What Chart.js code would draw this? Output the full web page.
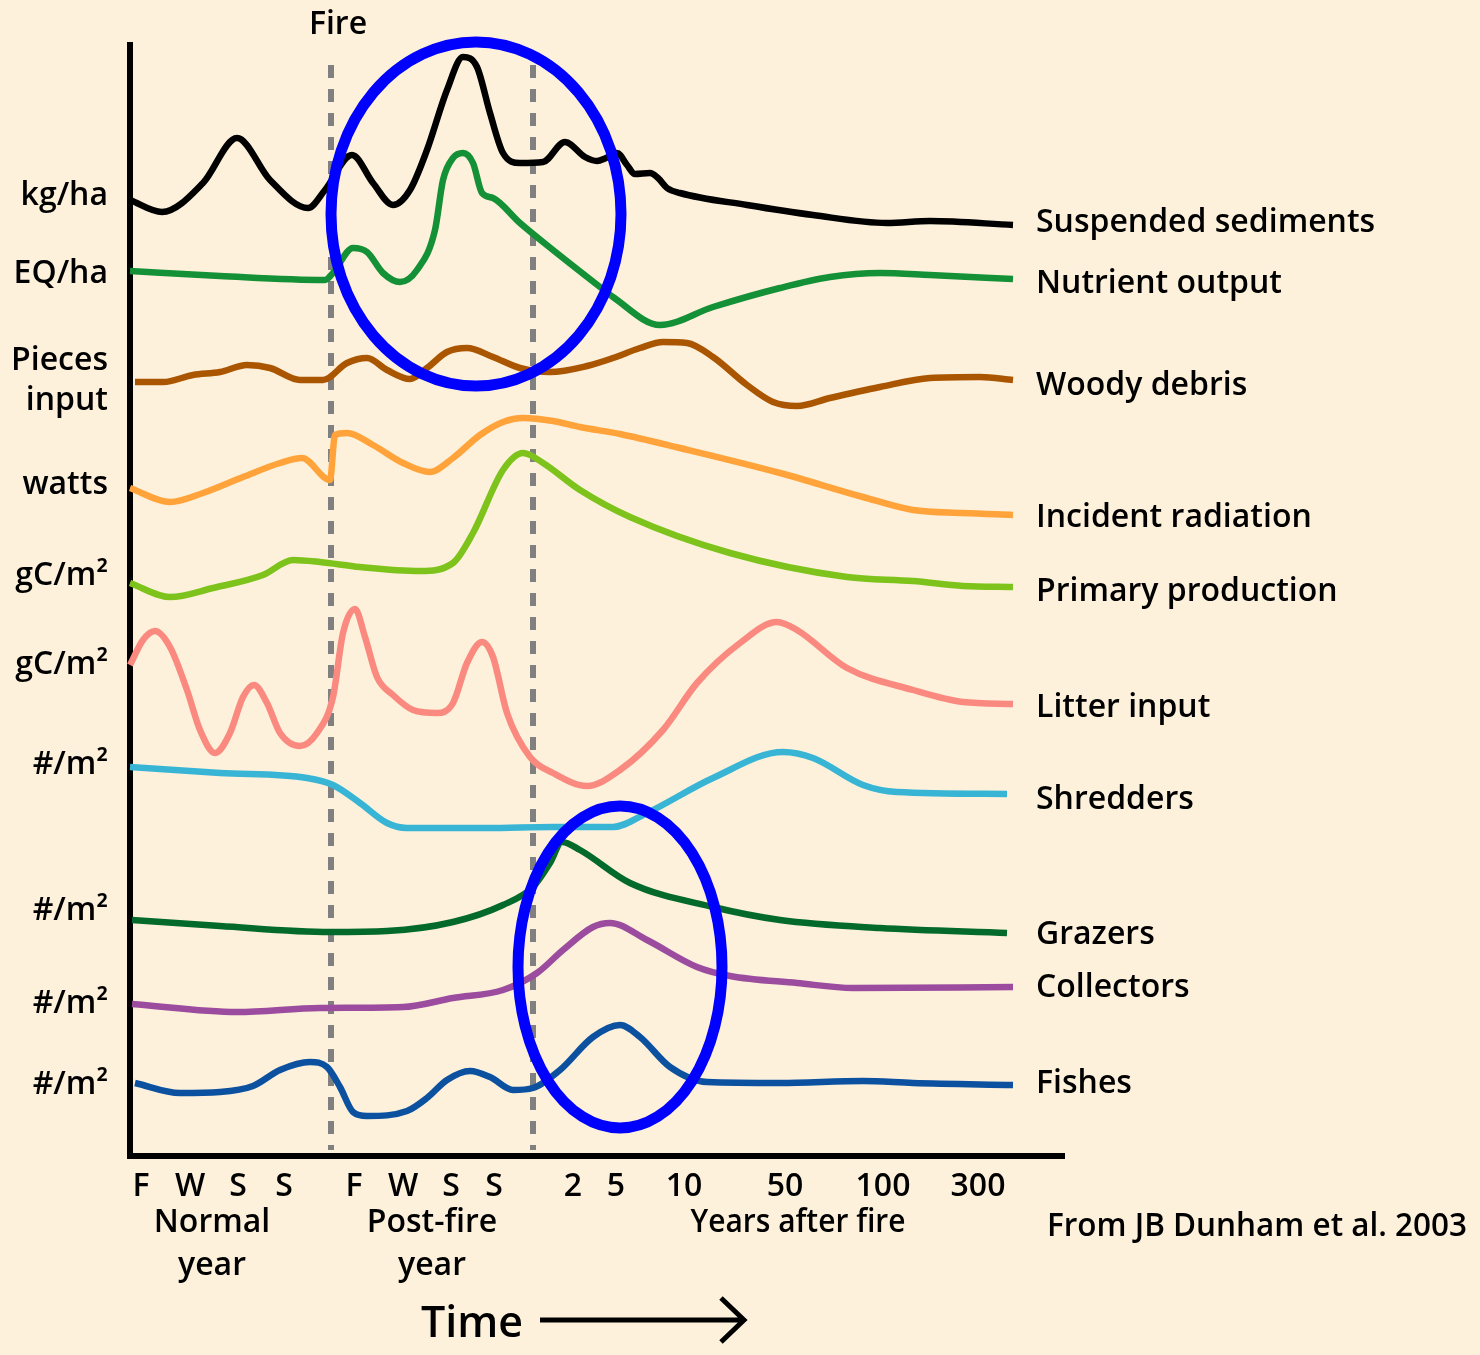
<!DOCTYPE html>
<html>
<head>
<meta charset="utf-8">
<script src="https://cdn.jsdelivr.net/npm/chart.js"></script>
<style>
  html, body { margin: 0; padding: 0; background: #FDF1DC; }
  #wrap { width: 1480px; height: 1355px; position: relative; }
</style>
</head>
<body>
<div id="wrap"><canvas id="fireChart"></canvas></div>
<script>
// x = relative time position, y = relative level
const sediments = [[130,200],[162,212],[203,183],[237,138],[270,180],[308,208],[325,190],[352,155],[373,183],[393,205],[410,190],[427,150],[447,90],[463,57],[477,67],[490,113],[503,153],[520,163],[543,162],[565,142],[585,157],[597,161],[606,158],[617,153],[627,165],[635,174],[650,173],[658,178],[667,188],[680,193],[747,205],[813,215],[887,223],[930,221],[1013,225]]
const nutrient  = [[130,271],[220,276],[325,280],[333,273],[353,248],[367,252],[383,273],[400,282],[417,270],[435,230],[443,180],[453,158],[463,153],[473,163],[482,193],[493,198],[520,223],[553,250],[600,287],[613,297],[660,325],[713,307],[780,288],[830,277],[880,273],[930,275],[1013,279]]
const woody     = [[135,382],[163,382],[193,375],[220,372],[247,365],[270,368],[300,380],[323,380],[347,363],[367,358],[387,370],[410,379],[427,368],[447,352],[467,348],[493,357],[520,368],[550,372],[587,366],[613,358],[640,348],[663,342],[687,343],[713,357],[747,385],[773,402],[797,406],[830,398],[880,387],[930,378],[980,377],[1013,380]]
const radiation = [[130,488],[170,502],[203,493],[243,477],[280,463],[302,458],[330,480],[335,435],[347,433],[373,445],[403,463],[430,472],[453,458],[480,435],[503,422],[523,418],[553,421],[580,427],[620,434],[680,448],[780,473],[863,497],[913,510],[963,513],[1013,515]]
const production= [[130,583],[170,597],[213,588],[263,575],[293,560],[320,562],[360,567],[420,571],[453,563],[473,533],[503,470],[523,453],[543,463],[580,490],[630,517],[730,553],[847,577],[913,581],[963,586],[1013,587]]
const litter    = [[130,665],[143,640],[155,631],[170,647],[187,690],[200,730],[215,753],[230,733],[243,697],[254,685],[267,703],[280,733],[300,746],[317,733],[333,697],[343,633],[355,609],[365,637],[377,677],[393,695],[413,710],[437,713],[453,703],[467,663],[482,642],[493,657],[507,713],[530,757],[553,773],[587,786],[620,770],[663,730],[697,683],[740,643],[777,622],[797,630],[847,668],[913,690],[963,702],[1013,704]]
const shredders = [[130,767],[220,773],[307,778],[333,785],[360,803],[387,823],[407,828],[487,828],[553,827],[613,827],[647,813],[713,778],[783,752],[813,758],[863,785],[897,792],[1007,794]]
const grazers   = [[132,920],[220,926],[330,932],[387,931],[453,922],[503,905],[533,887],[550,863],[562,842],[580,850],[630,883],[713,907],[780,920],[880,928],[1007,933]]
const collectors= [[132,1004],[237,1012],[320,1008],[403,1007],[453,998],[503,990],[537,973],[563,950],[593,927],[610,923],[647,940],[697,967],[730,976],[797,983],[853,988],[1013,987]]
const fishes    = [[135,1083],[180,1093],[220,1092],[253,1086],[280,1070],[310,1062],[327,1067],[340,1087],[353,1112],[367,1116],[407,1111],[427,1098],[447,1080],[470,1071],[490,1077],[513,1090],[533,1088],[560,1070],[593,1037],[620,1025],[640,1037],[670,1067],[707,1082],[780,1083],[863,1081],[913,1083],[1013,1085]]

const seriesNames = ['Suspended sediments','Nutrient output','Woody debris','Incident radiation','Primary production','Litter input','Shredders','Grazers','Collectors','Fishes']
const seriesData  = [sediments, nutrient, woody, radiation, production, litter, shredders, grazers, collectors, fishes]
const seriesColors = ['#000000','#149036','#AA5500','#FFA33A','#7DC31C','#FA8A80','#38B5D5','#046A2C','#9C4C9E','#0B51A0']
const nameLevels  = [220,281,383,515,589,705,797,932,985,1081]

const unitLabels = ['kg/ha','EQ/ha','Pieces','input','watts','gC/m²','gC/m²','#/m²','#/m²','#/m²','#/m²']
const unitLevels = [193,271,358,398,482,573,662,762,908,1001,1082]

const tickPos    = [141,190,238,284,354,403,451,494,573,616,684,785,883,978]
const tickLabels = ['F','W','S','S','F','W','S','S','2','5','10','50','100','300']

const fireLines = [331, 533]
// highlight ellipses: [centre x, centre y, radius x, radius y]
const circles = [[476,214,145,172],[620,967,102,161]]

const FONT = '"Open Sans", "Noto Sans", sans-serif'
const TEXT_NUDGE = 3

const decor = {
  id: 'decor',
  beforeDraw(chart) {
    const ctx = chart.ctx
    ctx.save()
    ctx.fillStyle = '#FDF1DC'
    ctx.fillRect(0, 0, chart.width, chart.height)
    ctx.restore()
  },
  beforeDatasetsDraw(chart) {
    const ctx = chart.ctx
    const xs = chart.scales.x, ys = chart.scales.y
    ctx.save()
    // dashed fire lines
    ctx.strokeStyle = '#808080'
    ctx.lineWidth = 6
    ctx.setLineDash([13, 11])
    fireLines.forEach(v => {
      const px = xs.getPixelForValue(v)
      ctx.beginPath()
      ctx.moveTo(px, ys.getPixelForValue(65))
      ctx.lineTo(px, ys.getPixelForValue(1150))
      ctx.stroke()
    })
    ctx.setLineDash([])
    // axes
    ctx.strokeStyle = '#000'
    ctx.lineWidth = 6
    ctx.beginPath()
    ctx.moveTo(xs.getPixelForValue(130), ys.getPixelForValue(42))
    ctx.lineTo(xs.getPixelForValue(130), ys.getPixelForValue(1156))
    ctx.lineTo(xs.getPixelForValue(1065), ys.getPixelForValue(1156))
    ctx.stroke()
    ctx.restore()
  },
  afterDatasetsDraw(chart) {
    const ctx = chart.ctx
    const xs = chart.scales.x, ys = chart.scales.y
    ctx.save()
    // ellipses
    ctx.strokeStyle = '#0000FF'
    ctx.lineWidth = 11
    circles.forEach(c => {
      const cx = xs.getPixelForValue(c[0]), cy = ys.getPixelForValue(c[1])
      const rx = Math.abs(xs.getPixelForValue(c[0] + c[2]) - cx)
      const ry = Math.abs(ys.getPixelForValue(c[1] + c[3]) - cy)
      ctx.beginPath()
      ctx.ellipse(cx, cy, rx, ry, 0, 0, Math.PI * 2)
      ctx.stroke()
    })

    ctx.fillStyle = '#000'
    ctx.textBaseline = 'middle'
    ctx.font = '600 32px ' + FONT

    // unit labels on the left
    ctx.textAlign = 'right'
    unitLabels.forEach((t, i) => ctx.fillText(t, 108, ys.getPixelForValue(unitLevels[i]) + TEXT_NUDGE))

    // series names on the right
    ctx.textAlign = 'left'
    seriesNames.forEach((t, i) => ctx.fillText(t, 1036, ys.getPixelForValue(nameLevels[i]) + TEXT_NUDGE, 340))

    // time ticks
    ctx.textAlign = 'center'
    tickPos.forEach((v, i) => ctx.fillText(tickLabels[i], xs.getPixelForValue(v), 1184 + TEXT_NUDGE))

    const y1 = 1220 + TEXT_NUDGE, y2 = 1263 + TEXT_NUDGE
    ctx.fillText('Normal', 212, y1)
    ctx.fillText('year', 212, y2)
    ctx.fillText('Post-fire', 432, y1)
    ctx.fillText('year', 432, y2)
    ctx.fillText('Years after fire', 798, y1, 215)
    ctx.fillText('Fire', xs.getPixelForValue(fireLines[0]) + 7, 22 + TEXT_NUDGE)
    ctx.fillText('From JB Dunham et al. 2003', 1257, 1224 + TEXT_NUDGE, 420)

    ctx.font = '600 43px ' + FONT
    ctx.fillText('Time', 472, 1322 + TEXT_NUDGE)

    // arrow
    ctx.strokeStyle = '#000'
    ctx.lineWidth = 5
    ctx.beginPath()
    ctx.moveTo(540, 1320)
    ctx.lineTo(744, 1320)
    ctx.moveTo(721, 1298)
    ctx.lineTo(744, 1320)
    ctx.lineTo(721, 1342)
    ctx.stroke()
    ctx.restore()
  }
}

new Chart(document.getElementById('fireChart'), {
  type: 'line',
  data: {
    datasets: seriesData.map((d, i) => ({
      label: seriesNames[i],
      data: d.map(p => ({ x: p[0], y: p[1] })),
      borderColor: seriesColors[i],
      borderWidth: 6.5,
      pointRadius: 0,
      cubicInterpolationMode: 'monotone',
      fill: false,
      clip: false
    }))
  },
  options: {
    responsive: true,
    maintainAspectRatio: false,
    animation: false,
    layout: { padding: { left: 130, top: 42, right: 415, bottom: 198 } },
    plugins: { legend: { display: false }, tooltip: { enabled: false } },
    scales: {
      x: { type: 'linear', min: 130, max: 1065, display: false },
      y: { type: 'linear', min: 42, max: 1157, reverse: true, display: false }
    }
  },
  plugins: [decor]
})
</script>
</body>
</html>
